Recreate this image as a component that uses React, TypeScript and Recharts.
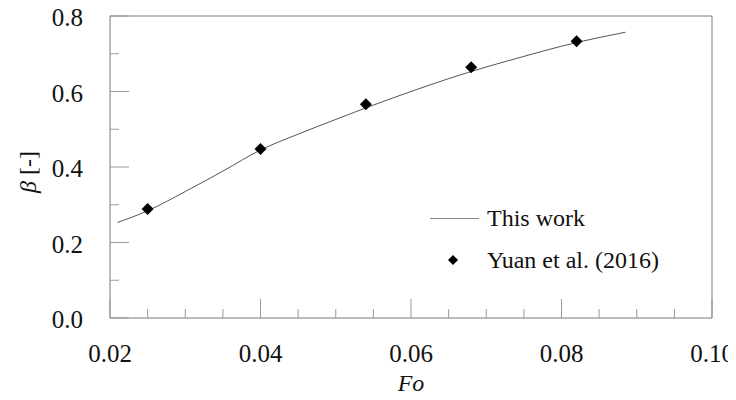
import React from "react";
import {
  ComposedChart,
  Line,
  Scatter,
  XAxis,
  YAxis,
  ReferenceLine,
} from "recharts";

// Model curve (This work)
const curveFo = [0.021, 0.025, 0.03, 0.035, 0.04, 0.045, 0.05, 0.055, 0.06, 0.065, 0.07, 0.075, 0.08, 0.085, 0.0885];
const curveBeta = [0.253, 0.284, 0.335, 0.389, 0.445, 0.487, 0.526, 0.564, 0.6, 0.634, 0.665, 0.693, 0.72, 0.743, 0.757];

// Measured points (Yuan et al. 2016)
const expFo = [0.025, 0.04, 0.054, 0.068, 0.082];
const expBeta = [0.289, 0.448, 0.566, 0.664, 0.733];

const xTicks = [0.02, 0.025, 0.03, 0.035, 0.04, 0.045, 0.05, 0.055, 0.06, 0.065, 0.07, 0.075, 0.08, 0.085, 0.09, 0.095, 0.1];
const xMajor = [0.02, 0.04, 0.06, 0.08, 0.1];
const yTicks = [0, 0.1, 0.2, 0.3, 0.4, 0.5, 0.6, 0.7, 0.8];
const yMajor = [0, 0.2, 0.4, 0.6, 0.8];

const curve = curveFo.map((fo, i) => ({ fo, beta: curveBeta[i] }));
const points = expFo.map((fo, i) => ({ fo, beta: expBeta[i] }));

const FONT = "Liberation Serif, Times New Roman, DejaVu Serif, serif";
const AXIS = "#7a7a7a";
const TICK = "#9a9a9a";

const isMajor = (list: number[], v: number) => list.some((m) => Math.abs(m - v) < 1e-9);

// inward ticks, long on the labelled values
const XTick = ({ x, y, payload }: any) => {
  const major = isMajor(xMajor, payload.value);
  return (
    <g>
      <line x1={x} x2={x} y1={y} y2={y - (major ? 19 : 9)} stroke={TICK} strokeWidth={1} />
      {major && (
        <text x={x} y={y + 44} textAnchor="middle" fontFamily={FONT} fontSize={25} fill="#111">
          {payload.value.toFixed(2)}
        </text>
      )}
    </g>
  );
};

const YTick = ({ x, y, payload }: any) => {
  const major = isMajor(yMajor, payload.value);
  return (
    <g>
      <line x1={x} x2={x + (major ? 19 : 9)} y1={y} y2={y} stroke={TICK} strokeWidth={1} />
      {major && (
        <text x={x - 27} y={y + 10} textAnchor="end" fontFamily={FONT} fontSize={25} fill="#111">
          {payload.value.toFixed(1)}
        </text>
      )}
    </g>
  );
};

const Diamond = ({ cx, cy }: any) => (
  <polygon
    points={`${cx},${cy - 6} ${cx + 6},${cy} ${cx},${cy + 6} ${cx - 6},${cy}`}
    fill="#000"
  />
);

const html = { fontFamily: FONT, fontSize: 24, color: "#111", position: "absolute" as const, whiteSpace: "nowrap" as const, lineHeight: "28px" };

export default function App() {
  return (
    <div style={{ position: "relative", width: 736, height: 400, margin: -8, fontFamily: FONT }}>
      <ComposedChart
        width={736}
        height={400}
        margin={{ top: 16, right: 24, bottom: 0, left: 0 }}
      >
        <XAxis
          type="number"
          dataKey="fo"
          domain={[0.02, 0.1]}
          ticks={xTicks}
          interval={0}
          allowDataOverflow
          tick={<XTick />}
          tickLine={false}
          tickSize={0}
          tickMargin={0}
          height={82}
          stroke={AXIS}
        />
        <YAxis
          type="number"
          dataKey="beta"
          domain={[0, 0.8]}
          ticks={yTicks}
          interval={0}
          allowDataOverflow
          tick={<YTick />}
          tickLine={false}
          tickSize={0}
          tickMargin={0}
          width={110}
          stroke={AXIS}
        />
        <ReferenceLine y={0.8} stroke={AXIS} strokeWidth={1} />
        <ReferenceLine x={0.1} stroke={AXIS} strokeWidth={1} />
        <Line
          data={curve}
          dataKey="beta"
          type="monotone"
          stroke="#555"
          strokeWidth={1}
          dot={false}
          activeDot={false}
          isAnimationActive={false}
        />
        <Scatter data={points} dataKey="beta" shape={<Diamond />} isAnimationActive={false} />
      </ComposedChart>

      {/* axis titles */}
      <div style={{ ...html, left: 411, top: 369, transform: "translateX(-50%)", fontStyle: "italic" }}>Fo</div>
      <div
        style={{
          ...html,
          left: 28,
          top: 172,
          transform: "translate(-50%, -50%) rotate(-90deg)",
        }}
      >
        <i>β</i> [-]
      </div>

      {/* legend */}
      <div style={{ ...html, left: 430, top: 204 }}>
        <div style={{ display: "flex", alignItems: "center", height: 28 }}>
          <div style={{ width: 49, height: 1, background: "#888", marginRight: 8 }} />
          <span>This work</span>
        </div>
        <div style={{ display: "flex", alignItems: "center", height: 28, marginTop: 14 }}>
          <svg width={49} height={12} style={{ marginRight: 8 }}>
            <polygon points="23,1 28,6 23,11 18,6" fill="#000" />
          </svg>
          <span>Yuan et al. (2016)</span>
        </div>
      </div>
    </div>
  );
}
